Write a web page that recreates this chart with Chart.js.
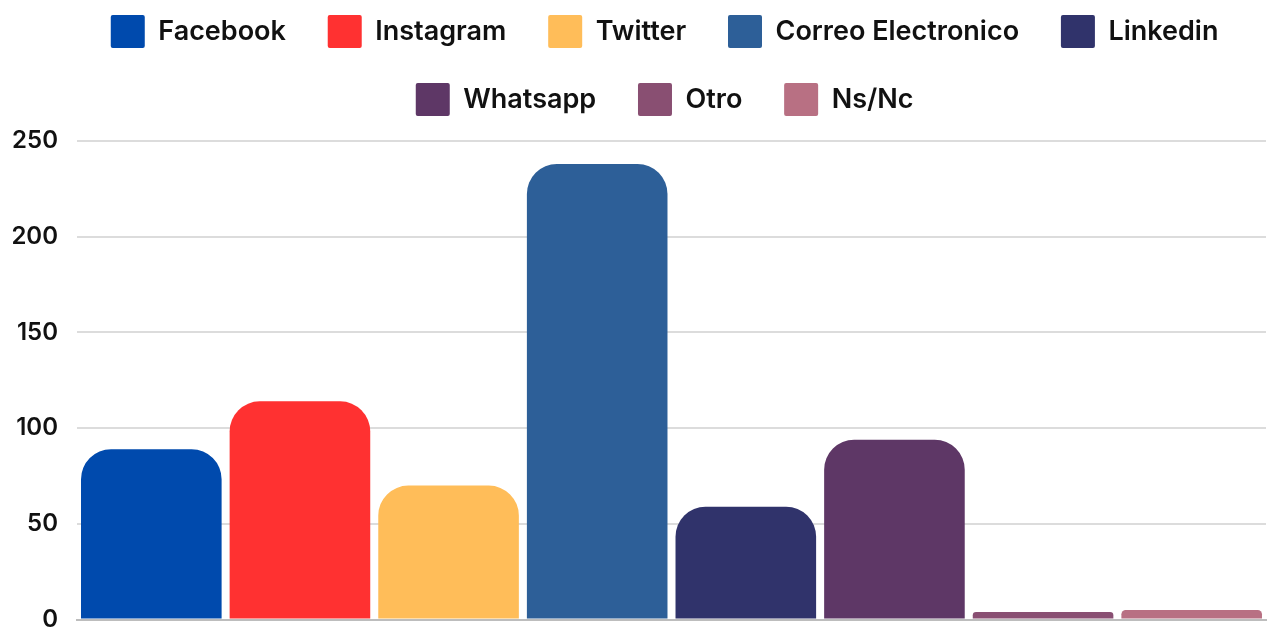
<!DOCTYPE html>
<html>
<head>
<meta charset="utf-8">
<script src="https://cdn.jsdelivr.net/npm/chart.js@4"></script>
<style>
    html, body { margin: 0; padding: 0; background: #fff; overflow: hidden; }
    #wrap { position: absolute; left: -20px; top: -20px; width: 1290px; height: 673px; }
</style>
</head>
<body>
<div id="wrap"><canvas id="chart" width="1290" height="673"></canvas></div>
<script>
// ==========================================
// DATA
// ==========================================
const categories = ['Facebook', 'Instagram', 'Twitter', 'Correo Electronico', 'Linkedin', 'Whatsapp', 'Otro', 'Ns/Nc'];
const values = [89, 114, 70, 238, 59, 94, 4, 5];
const colors = ['#004AAD', '#FF3131', '#FFBD59', '#2D5F98', '#30336B', '#5E3766', '#894F72', '#B87083'];
const yMin = 0;
const yMax = 250;
const yStep = 50;

// one dataset per channel so the legend lists them all
const datasets = categories.map((name, i) => ({
    label: name,
    data: [values[i]],
    backgroundColor: colors[i],
    borderWidth: 0,
    borderRadius: { topLeft: 30, topRight: 30, bottomLeft: 0, bottomRight: 0 },
    borderSkipped: 'bottom',
    barPercentage: 0.946,
    categoryPercentage: 1
}));

// legend: fixed height (rows sit above the plot) and centred a bit to the right
const legendFit = {
    id: 'legendFit',
    beforeInit(chart) {
        const legend = chart.legend;
        if (!legend) return;
        const fit = legend.fit;
        legend.fit = function () {
            fit.call(this);
            this.height = 161;
        };
    },
    afterLayout(chart) {
        const legend = chart.legend;
        if (!legend) return;
        legend.left += 45;
        legend.right += 45;
    }
};

const defaultLabels = Chart.defaults.plugins.legend.labels.generateLabels;

new Chart(document.getElementById('chart'), {
    type: 'bar',
    data: { labels: [''], datasets: datasets },
    plugins: [legendFit],
    options: {
        responsive: false,
        animation: false,
        layout: { padding: { left: 0, right: 4, top: 0, bottom: 14 } },
        plugins: {
            tooltip: { enabled: false },
            legend: {
                position: 'top',
                labels: {
                    boxWidth: 34,
                    boxHeight: 33,
                    padding: 35,
                    useBorderRadius: true,
                    borderRadius: 2,
                    color: '#111111',
                    font: { family: 'Inter', size: 27, weight: '600' },
                    // a little extra room after each name
                    generateLabels: (chart) => defaultLabels(chart).map(l => ({ ...l, text: l.text + ' ' }))
                }
            }
        },
        scales: {
            x: {
                grid: { display: false },
                border: { display: true, color: '#bdbdbd', width: 2 },
                ticks: { display: false }
            },
            y: {
                min: yMin,
                max: yMax,
                afterFit: (scale) => { scale.width = 97; },
                grid: { color: '#dcdcdc', lineWidth: 2, drawTicks: false },
                border: { display: false },
                ticks: {
                    stepSize: yStep,
                    padding: 19,
                    color: '#111111',
                    font: { family: 'Inter', size: 24, weight: '600' }
                }
            }
        }
    }
});
</script>
</body>
</html>
